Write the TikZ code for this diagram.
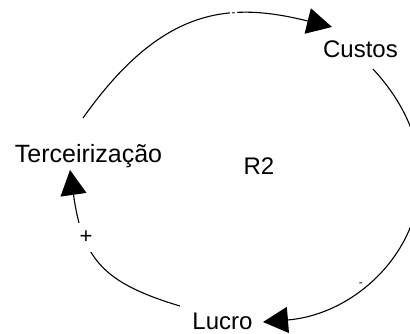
\documentclass[tikz,border=0pt]{standalone}
\usepackage{fontspec}
\setmainfont{Liberation Sans}
\usetikzlibrary{arrows.meta}
\begin{document}
\begin{tikzpicture}[x=1pt,y=-1pt,
  lbl/.style={inner sep=0pt,anchor=base,font=\fontsize{24}{28}\selectfont},
  link/.style={line width=1.1pt,-{Triangle[length=25pt,width=26pt]}},
  pol/.style={fill=white,inner sep=1.5pt,font=\fontsize{12}{14}\selectfont},
  plus/.style={fill=white,inner sep=8pt,font=\fontsize{22}{26}\selectfont}]
\useasboundingbox (0,0) rectangle (410,333);
\clip (0,0) rectangle (410,333);
\node[lbl,font=\fontsize{25}{29}\selectfont] (T) at (88.5,162) {Terceirização};
\node[lbl] (C) at (360.5,57) {Custos};
\node[lbl] (L) at (222.5,329) {Lucro};
\node[lbl] (R) at (259,174) {R2};
\draw[link] ([shift={(-5.5,-44)}]T.base) .. controls (163,5) and (231,2) .. ([shift={(-28.5,-30)}]C.base) node[pol,pos=0.64] {-};
\draw[link] ([shift={(12.5,12)}]C.base) .. controls (480,185) and (385,312) .. ([shift={(40.5,-7)}]L.base) node[pol,pos=0.7] {-};
\draw[link] ([shift={(-42.5,-23)}]L.base) .. controls (103,283) and (82.6,259) .. ([shift={(-18.5,8)}]T.base) node[plus,pos=0.68] {+};
\end{tikzpicture}
\end{document}
